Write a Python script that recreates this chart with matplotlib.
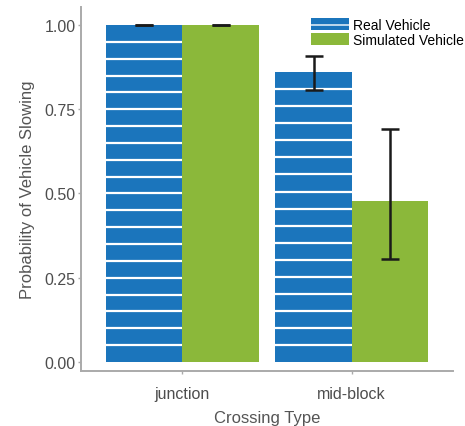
import numpy as np
import matplotlib
matplotlib.use("Agg")
import matplotlib.pyplot as plt
from matplotlib.patches import Patch

# Data
crossing_types = ["junction", "mid-block"]
real_prob = [1.00, 0.86]
real_low = [1.00, 0.807]
real_high = [1.00, 0.908]
sim_prob = [1.00, 0.478]
sim_low = [1.00, 0.306]
sim_high = [1.00, 0.691]
y_ticks = [0.00, 0.25, 0.50, 0.75, 1.00]
series_names = ["Real Vehicle", "Simulated Vehicle"]

blue = "#1b75bc"
green = "#8bb83a"
grey_txt = "#4d4d4d"
axis_grey = "#aaaaaa"

plt.rcParams["font.family"] = ["Liberation Sans", "DejaVu Sans"]

fig = plt.figure(figsize=(4.65, 4.27), dpi=100)
ax = fig.add_axes([81 / 465, 1 - 372 / 427, 372 / 465, 364 / 427])

x = np.arange(1, len(crossing_types) + 1)
w = 0.45

real_bars = ax.bar(x - w / 2, real_prob, w, color=blue, linewidth=0, zorder=2)
ax.bar(x + w / 2, sim_prob, w, color=green, linewidth=0, zorder=2)

# white horizontal stripes inside each real-vehicle bar, evenly spaced
stripe_step = 0.0496
for bar in real_bars:
    h = bar.get_height()
    n = int(round(h / stripe_step)) - 1
    ys = np.linspace(0, h, n + 2)[1:-1]
    ax.hlines(ys, bar.get_x(), bar.get_x() + bar.get_width(),
              colors="white", linewidth=1.6, zorder=3)

# error bars
real_err = [np.array(real_prob) - np.array(real_low),
            np.array(real_high) - np.array(real_prob)]
sim_err = [np.array(sim_prob) - np.array(sim_low),
           np.array(sim_high) - np.array(sim_prob)]
ax.errorbar(x - w / 2, real_prob, yerr=real_err, fmt="none", ecolor="#1a1a1a",
            elinewidth=1.8, capsize=6.2, capthick=1.8, zorder=4)
ax.errorbar(x + w / 2, sim_prob, yerr=sim_err, fmt="none", ecolor="#1a1a1a",
            elinewidth=1.8, capsize=6.2, capthick=1.8, zorder=4)

ax.set_xlim(0.4, 2.6)
ax.set_ylim(-0.0267, 1.0534)
ax.set_xticks(x)
ax.set_xticklabels(crossing_types)
ax.set_yticks(y_ticks)
ax.set_yticklabels([f"{v:.2f}" for v in y_ticks])

for s in ["top", "right"]:
    ax.spines[s].set_visible(False)
for s in ["left", "bottom"]:
    ax.spines[s].set_color(axis_grey)
    ax.spines[s].set_linewidth(1.4)

ax.tick_params(axis="both", colors=axis_grey, labelcolor=grey_txt,
               labelsize=11.5, length=2.5, width=1)
ax.tick_params(axis="y", pad=1.5)
ax.tick_params(axis="x", pad=8)
ax.set_xlabel("Crossing Type", fontsize=12, color="#555555", labelpad=7)
ax.set_ylabel("Probability of Vehicle Slowing", fontsize=12,
              color="#555555", labelpad=7)

handles = [Patch(facecolor=blue, edgecolor="white", hatch="-", linewidth=0),
           Patch(facecolor=green, linewidth=0)]
fig.legend(handles, series_names, loc="upper left",
           bbox_to_anchor=(311 / 465, 1 - 19 / 427), frameon=False,
           fontsize=10, handlelength=2.74, handleheight=1.0,
           handletextpad=0.3, labelspacing=0.05, borderpad=0,
           borderaxespad=0)

fig.savefig("out.png", dpi=100)
